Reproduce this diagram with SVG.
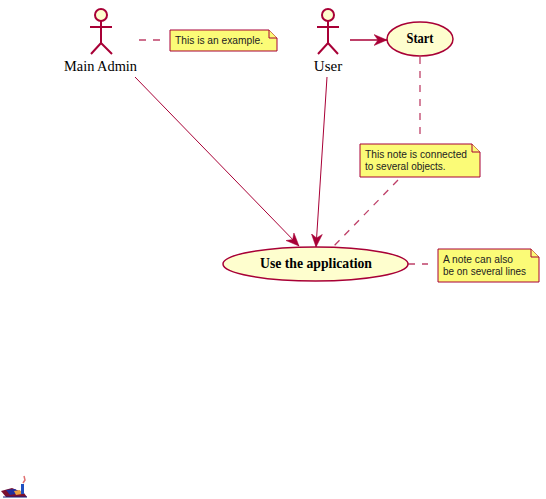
<svg xmlns="http://www.w3.org/2000/svg" width="546" height="499" viewBox="0 0 546 499">
<style>
.actor{fill:none;stroke:#A80036;stroke-width:2}
.head{fill:#FEFECE;stroke:#A80036;stroke-width:2}
.uc{fill:#FEFECE;stroke:#A80036;stroke-width:1.5}
.note{fill:#FBFB77;stroke:#A80036;stroke-width:1}
.fold{fill:#FBFB77;stroke:#A80036;stroke-width:1}
.arrow{fill:none;stroke:#A80036;stroke-width:1}
.dash{fill:none;stroke:#A80036;stroke-width:1.3;stroke-dasharray:7 7;opacity:.75}
.lbl{font-family:"Liberation Serif",serif;font-size:15px;fill:#000;text-anchor:middle}
.nt{font-family:"Liberation Sans",sans-serif;font-size:10px;fill:#222}
</style>
<defs>
<marker id="ah" markerWidth="16" markerHeight="12" refX="13" refY="6" orient="auto" markerUnits="userSpaceOnUse">
<path d="M0,0.5 L13,6 L0,11.500 L4,6 Z" fill="#A80036" stroke="#A80036" stroke-width="0.5"/>
</marker>
</defs>
<g id="connectors">
<path class="dash" d="M139,40 L165,40"/>
<path class="arrow" d="M135,77 L299,246" marker-end="url(#ah)"/>
<path class="arrow" d="M327,77 L316,247" marker-end="url(#ah)"/>
<path class="arrow" style="stroke-width:1.6" d="M350,40 L387,40" marker-end="url(#ah)"/>
<path class="dash" d="M420,57 L420,140"/>
<path class="dash" d="M398,180 L333,247"/>
<path class="dash" d="M408,264 L428,264"/>
</g>
<g id="actor-main-admin">
<circle class="head" cx="101" cy="15" r="6"/>
<path class="actor" d="M101,21 V43 M90,27 H112 M91,54 L101,43 L112,54"/>
<text class="lbl" x="100.500" y="71" textLength="73" lengthAdjust="spacingAndGlyphs">Main Admin</text>
</g>
<g id="note-example">
<path class="note" d="M170,30 H269 L277,38 V51 H170 Z"/>
<path class="fold" d="M269,30 V38 H277"/>
<text class="nt" x="175" y="44" textLength="88" lengthAdjust="spacingAndGlyphs">This is an example.</text>
</g>
<g id="actor-user">
<circle class="head" cx="328" cy="15" r="6"/>
<path class="actor" d="M328,21 V43 M317,27 H339 M318,54 L328,43 L338,54"/>
<text class="lbl" x="328" y="71">User</text>
</g>
<g id="usecase-start">
<ellipse class="uc" cx="420" cy="39" rx="33" ry="17"/>
<text class="lbl" style="font-weight:bold;font-size:14px" x="420" y="43" textLength="27" lengthAdjust="spacingAndGlyphs">Start</text>
</g>
<g id="note-connected">
<path class="note" d="M360,144 H472 L480,152 V177 H360 Z"/>
<path class="fold" d="M472,144 V152 H480"/>
<text class="nt" x="365" y="158" textLength="102" lengthAdjust="spacingAndGlyphs">This note is connected</text>
<text class="nt" x="365" y="170">to several objects.</text>
</g>
<g id="usecase-use">
<ellipse class="uc" cx="315.500" cy="264" rx="92.500" ry="17"/>
<text class="lbl" style="font-weight:bold;font-size:14px" x="316" y="268" textLength="112" lengthAdjust="spacingAndGlyphs">Use the application</text>
</g>
<g id="note-lines">
<path class="note" d="M438,249 H531 L539,257 V282 H438 Z"/>
<path class="fold" d="M531,249 V257 H539"/>
<text class="nt" x="443" y="263" textLength="70" lengthAdjust="spacingAndGlyphs">A note can also</text>
<text class="nt" x="443" y="275" textLength="83" lengthAdjust="spacingAndGlyphs">be on several lines</text>
</g>
<g id="icon">
<path d="M1,491 L12,488 L24,493 L27,497 H6 Z" fill="#7A1030"/>
<path d="M6,490 L15,489 L20,493 L10,495 Z" fill="#2030A0"/>
<path d="M14,491 L20,490 L22,494 L16,495 Z" fill="#E8A040"/>
<rect x="21" y="484" width="3" height="10" fill="#2050C0"/>
<path d="M24,476 L25,480 L23,483" fill="none" stroke="#E07070" stroke-width="1.500"/>
<path d="M3,497 H27" stroke="#102080" stroke-width="1"/>
</g>
</svg>
